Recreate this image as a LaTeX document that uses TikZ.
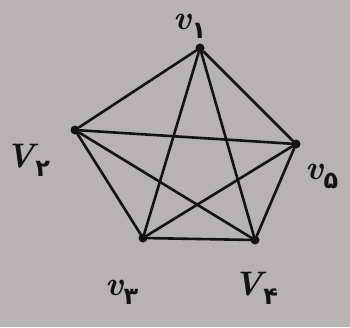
\documentclass[tikz,border=0pt]{standalone}
\usepackage{fontspec}
\newfontfamily\pdig{DejaVu Sans}
\definecolor{paper}{RGB}{184,178,176}
\definecolor{ink}{RGB}{20,18,18}
\newcommand{\pd}[1]{\raisebox{-9pt}{\pdig\upshape\bfseries\fontsize{24}{26}\selectfont #1}}
\begin{document}
\begin{tikzpicture}[x=1pt,y=-1pt,
  vert/.style={circle,fill=ink,inner sep=0pt,minimum size=9pt},
  edge/.style={draw=ink,line width=2.6pt,line cap=round},
  lab/.style={text=ink,inner sep=0pt,font=\bfseries\itshape\fontsize{34}{36}\selectfont}]
\fill[paper] (0,0) rectangle (350,327);
\useasboundingbox (0,0) rectangle (350,327);
\node[vert] (v1) at (200,48) {};
\node[vert] (v2) at (75,130) {};
\node[vert] (v5) at (296,144) {};
\node[vert] (v3) at (143,238) {};
\node[vert] (v4) at (255,240) {};
\foreach \a/\b in {v1/v2,v1/v3,v1/v4,v1/v5,v2/v3,v2/v4,v2/v5,v3/v4,v3/v5,v4/v5}
  \draw[edge] (\a) -- (\b);
\node[lab] (l1) at (190,26) {v\pd{۱}};
\node[lab] (l2) at (28,160) {V\pd{۲}};
\node[lab] (l5) at (322,176) {v\pd{۵}};
\node[lab] (l3) at (122,292) {v\pd{۳}};
\node[lab] (l4) at (256,288) {V\pd{۴}};
\end{tikzpicture}
\end{document}
